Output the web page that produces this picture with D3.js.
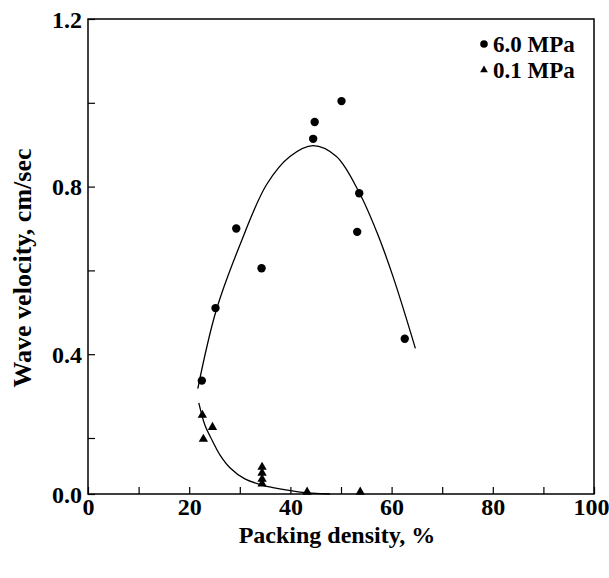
<!DOCTYPE html>
<html><head><meta charset="utf-8">
<script src="https://cdn.jsdelivr.net/npm/d3@7"></script>
<style>
html,body{margin:0;padding:0;background:#fff;}
text{font-family:"Liberation Serif","Times New Roman",serif;font-weight:bold;fill:#000;}
</style></head>
<body><svg id="chart" width="609" height="578"></svg>
<script>
// ---- data ----
const xTickValues = [0,10,20,30,40,50,60,70,80,90,100];
const xTickLabels = [0,20,40,60,80,100];
const yTickValues = [0,0.2,0.4,0.6,0.8,1.0,1.2];
const yTickLabels = [0,0.4,0.8,1.2];

const seriesNames = ["6.0 MPa","0.1 MPa"];

const hiDensity  = [22.5,25.2,29.3,34.3,44.5,44.8,50.1,53.6,53.2,62.6];
const hiVelocity = [0.337,0.51,0.70,0.605,0.914,0.954,1.004,0.784,0.692,0.437];

const loDensity  = [22.6,24.6,22.8,34.4,34.4,34.4,34.4,43.3,53.8];
const loVelocity = [0.25,0.221,0.189,0.089,0.068,0.046,0.029,0.0,0.0];

const hiFitDensity  = [21.7,25.3,30.0,35.3,39.9,44.5,49.1,53.6,57.1,60.4,64.7];
const hiFitVelocity = [0.318,0.503,0.66,0.805,0.872,0.898,0.872,0.786,0.691,0.581,0.414];

const loFitDensity  = [21.9,23.1,24.5,26.1,28.1,31.0,34.4,37.9,41.9,47.8];
const loFitVelocity = [0.284,0.231,0.193,0.139,0.093,0.054,0.032,0.018,0.007,0.0];

// ---- layout ----
const L = 88, R = 594, T = 19, B = 494;
const svg = d3.select("#chart");
const x = d3.scaleLinear().domain([0,100]).range([L,R]);
// the printed axis is compressed between 0.0 and 0.2
const y = d3.scaleLinear().domain([0,0.2,1.2]).range([B,438,T]);

// frame
svg.append("rect").attr("x",L).attr("y",T).attr("width",R-L).attr("height",B-T)
  .attr("fill","none").attr("stroke","#000").attr("stroke-width",1.5);

// x axis ticks (inward)
const xAxis = d3.axisBottom(x).tickValues(xTickValues).tickSizeInner(-7).tickSizeOuter(0)
  .tickFormat(d => xTickLabels.includes(d) ? d3.format("d")(d) : "");
const gx = svg.append("g").attr("transform",`translate(0,${B})`).call(xAxis);
gx.select(".domain").remove();
gx.selectAll("line").attr("stroke","#000").attr("stroke-width",1.2);
gx.selectAll("text").attr("font-size",24).attr("dy","0.95em").attr("y",-2)
  .style("font-family","'Liberation Serif',serif").style("font-weight","bold");
gx.selectAll(".tick").filter(d=>d===100).select("text").attr("dx",-3);

const yAxis = d3.axisLeft(y).tickValues(yTickValues).tickSizeInner(-7).tickSizeOuter(0)
  .tickFormat(d => yTickLabels.some(v=>Math.abs(v-d)<1e-9) ? d3.format(".1f")(d) : "");
const gy = svg.append("g").attr("transform",`translate(${L},0)`).call(yAxis);
gy.select(".domain").remove();
gy.selectAll("line").attr("stroke","#000").attr("stroke-width",1.2);
gy.selectAll("text").attr("font-size",24).attr("x",-6).attr("dy","0.34em")
  .style("font-family","'Liberation Serif',serif").style("font-weight","bold");

// curves
const line = d3.line().x(d=>x(d[0])).y(d=>y(d[1])).curve(d3.curveCatmullRom.alpha(0.5));
svg.append("path").datum(d3.zip(hiFitDensity,hiFitVelocity)).attr("d",line)
  .attr("fill","none").attr("stroke","#000").attr("stroke-width",1.3);
svg.append("path").datum(d3.zip(loFitDensity,loFitVelocity)).attr("d",line)
  .attr("fill","none").attr("stroke","#000").attr("stroke-width",1.3);

// points
svg.append("g").selectAll("circle").data(d3.zip(hiDensity,hiVelocity)).join("circle")
  .attr("cx",d=>x(d[0])).attr("cy",d=>y(d[1])).attr("r",4.2).attr("fill","#000");
const tri = d3.symbol().type(d3.symbolTriangle).size(38);
svg.append("g").selectAll("path").data(d3.zip(loDensity,loVelocity)).join("path")
  .attr("d",tri).attr("transform",d=>`translate(${x(d[0])},${y(d[1])-2})`).attr("fill","#000");

// legend
const lg = svg.append("g");
lg.append("circle").attr("cx",484).attr("cy",44).attr("r",3.8).attr("fill","#000");
lg.append("text").attr("x",493).attr("y",44).attr("dy","0.34em").attr("font-size",23).text(seriesNames[0]);
lg.append("path").attr("d",d3.symbol().type(d3.symbolTriangle).size(26)).attr("transform","translate(484,70)").attr("fill","#000");
lg.append("text").attr("x",493).attr("y",70).attr("dy","0.34em").attr("font-size",23).text(seriesNames[1]);

// axis titles
svg.append("text").attr("x",(L+R)/2-4).attr("y",543).attr("text-anchor","middle")
  .attr("font-size",24).text("Packing density, %");
svg.append("text").attr("transform",`translate(31,268) rotate(-90)`).attr("text-anchor","middle")
  .attr("font-size",26).text("Wave velocity, cm/sec");
</script></body></html>
